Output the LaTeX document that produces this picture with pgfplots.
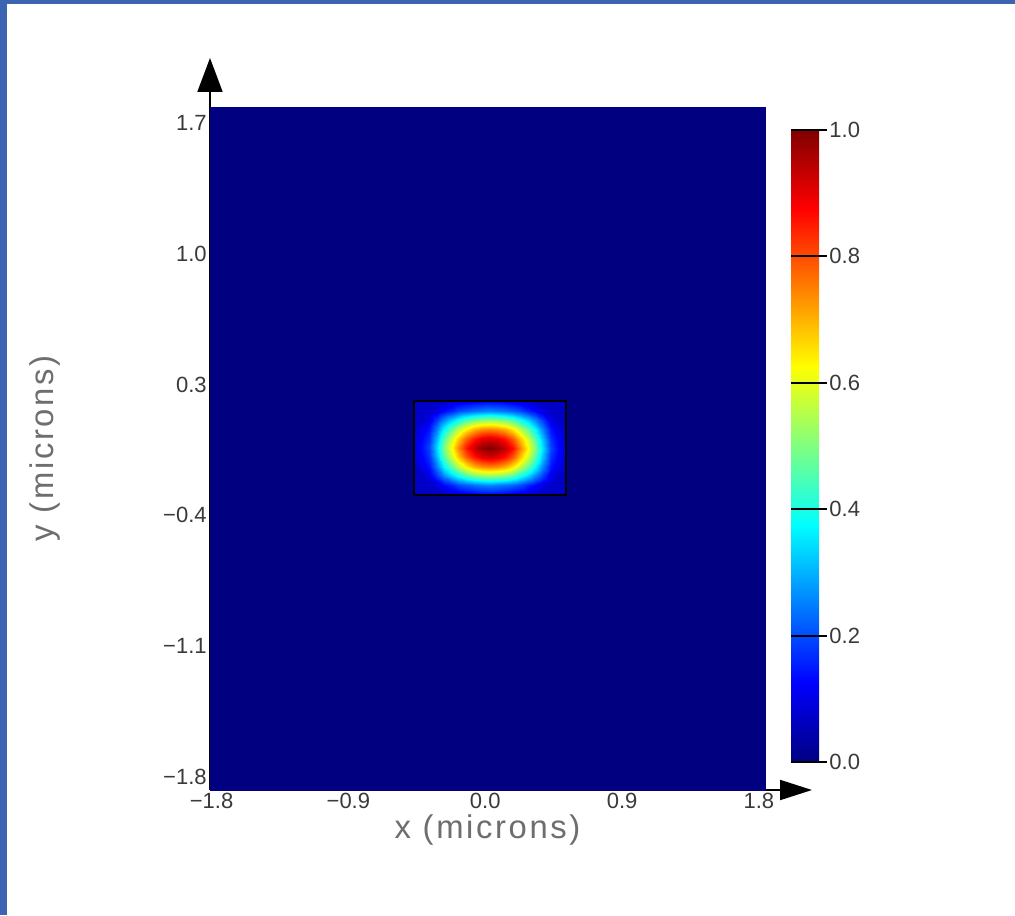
\documentclass[border=0pt]{standalone}
\usepackage{fontspec}
\setmainfont{Liberation Sans}
\newfontfamily\labelfont[LetterSpace=8]{Liberation Sans}
\usepackage{pgfplots}
\pgfplotsset{compat=1.18}
\usetikzlibrary{arrows.meta}
\definecolor{slide}{HTML}{3C64B0}
\definecolor{ticktext}{HTML}{3A3A3A}
\definecolor{labeltext}{HTML}{6E6E6E}

\begin{document}
\begin{tikzpicture}
\path[use as bounding box] (0,0) rectangle (507.5pt,457.5pt);
\fill[white] (0,0) rectangle (507.5pt,457.5pt);
\fill[slide] (0,0) rectangle (3.5pt,457.5pt);
\fill[slide] (0,455.5pt) rectangle (507.5pt,457.5pt);
\begin{axis}[
  at={(105pt,62.5pt)}, anchor=south west,
  scale only axis, width=277.5pt, height=341.5pt,
  xmin=-1.81, xmax=1.84, ymin=-1.87, ymax=1.785,
  axis x line*=bottom, axis y line*=left,
  x axis line style={line width=1pt, shorten >=-23.5pt, -{Triangle[length=16pt,width=10pt]}},
  y axis line style={line width=1pt, shorten >=-24.5pt, -{Triangle[length=17pt,width=12.5pt]}},
  tick style={draw=none},
  xtick={-1.8,-0.9,0,0.9,1.8},
  xticklabels={−1.8,−0.9,0.0,0.9,1.8},
  ytick={-1.8,-1.1,-0.4,0.3,1.0,1.7},
  yticklabels={−1.8,−1.1,−0.4,0.3,1.0,1.7},
  xticklabel style={font=\fontsize{11}{13}\selectfont, text=ticktext, inner sep=1.5pt},
  yticklabel style={font=\fontsize{11}{13}\selectfont, text=ticktext, inner sep=1.5pt},
  xlabel={x (microns)}, ylabel={y (microns)},
  xlabel style={font=\labelfont\fontsize{16.4}{18}\selectfont, text=labeltext, at={(axis description cs:0.5,-0.0586)}, anchor=center},
  ylabel style={font=\labelfont\fontsize{16.4}{18}\selectfont, text=labeltext, at={(axis description cs:-0.297,0.5)}, anchor=center},
  colormap/jet, point meta min=0, point meta max=1,
  colorbar,
  colorbar style={
    at={(parent axis.south east)}, anchor=south west, xshift=4.5pt, yshift=14pt,
    scale only axis, width=14pt, height=316pt,
    ytick={0,0.2,0.4,0.6,0.8,1.0},
    yticklabels={0.0,0.2,0.4,0.6,0.8,1.0},
    ytick pos=right,
    yticklabel style={font=\fontsize{11}{13}\selectfont, text=ticktext, inner sep=1pt, xshift=-14pt},
    major tick length=18pt, tick align=outside,
    tick style={draw=black, line width=0.9pt},
    ytick style={draw=black, line width=0.9pt, xshift=-14pt},
    axis line style={draw=none},
    axis on top,
  },
]
% field far from the guide
\addplot[surf, shader=interp, mesh/cols=2, point meta=explicit] coordinates {
(-1.81,-1.87) [0] (1.84,-1.87) [0]
(-1.81,1.785) [0] (1.84,1.785) [0]
};
% mode intensity inside the guide
\addplot[surf, shader=interp, mesh/cols=21, point meta=explicit] coordinates {
(-0.47,-0.29) [0.07] (-0.42,-0.29) [0.07] (-0.37,-0.29) [0.07] (-0.32,-0.29) [0.07] (-0.27,-0.29) [0.07] (-0.22,-0.29) [0.08] (-0.17,-0.29) [0.09] (-0.12,-0.29) [0.10] (-0.07,-0.29) [0.11] (-0.02,-0.29) [0.12] (0.03,-0.29) [0.12] (0.08,-0.29) [0.12] (0.13,-0.29) [0.11] (0.18,-0.29) [0.10] (0.23,-0.29) [0.09] (0.28,-0.29) [0.08] (0.33,-0.29) [0.07] (0.38,-0.29) [0.07] (0.43,-0.29) [0.07] (0.48,-0.29) [0.07] (0.53,-0.29) [0.07]
(-0.47,-0.24) [0.07] (-0.42,-0.24) [0.07] (-0.37,-0.24) [0.07] (-0.32,-0.24) [0.09] (-0.27,-0.24) [0.13] (-0.22,-0.24) [0.16] (-0.17,-0.24) [0.20] (-0.12,-0.24) [0.22] (-0.07,-0.24) [0.24] (-0.02,-0.24) [0.25] (0.03,-0.24) [0.26] (0.08,-0.24) [0.25] (0.13,-0.24) [0.24] (0.18,-0.24) [0.22] (0.23,-0.24) [0.20] (0.28,-0.24) [0.16] (0.33,-0.24) [0.13] (0.38,-0.24) [0.09] (0.43,-0.24) [0.07] (0.48,-0.24) [0.07] (0.53,-0.24) [0.07]
(-0.47,-0.19) [0.07] (-0.42,-0.19) [0.07] (-0.37,-0.19) [0.10] (-0.32,-0.19) [0.18] (-0.27,-0.19) [0.26] (-0.22,-0.19) [0.33] (-0.17,-0.19) [0.39] (-0.12,-0.19) [0.45] (-0.07,-0.19) [0.49] (-0.02,-0.19) [0.51] (0.03,-0.19) [0.52] (0.08,-0.19) [0.51] (0.13,-0.19) [0.49] (0.18,-0.19) [0.45] (0.23,-0.19) [0.39] (0.28,-0.19) [0.33] (0.33,-0.19) [0.26] (0.38,-0.19) [0.18] (0.43,-0.19) [0.10] (0.48,-0.19) [0.07] (0.53,-0.19) [0.07]
(-0.47,-0.14) [0.07] (-0.42,-0.14) [0.10] (-0.37,-0.14) [0.14] (-0.32,-0.14) [0.25] (-0.27,-0.14) [0.37] (-0.22,-0.14) [0.47] (-0.17,-0.14) [0.56] (-0.12,-0.14) [0.64] (-0.07,-0.14) [0.70] (-0.02,-0.14) [0.73] (0.03,-0.14) [0.74] (0.08,-0.14) [0.73] (0.13,-0.14) [0.70] (0.18,-0.14) [0.64] (0.23,-0.14) [0.56] (0.28,-0.14) [0.47] (0.33,-0.14) [0.37] (0.38,-0.14) [0.25] (0.43,-0.14) [0.14] (0.48,-0.14) [0.10] (0.53,-0.14) [0.07]
(-0.47,-0.09) [0.09] (-0.42,-0.09) [0.12] (-0.37,-0.09) [0.17] (-0.32,-0.09) [0.31] (-0.27,-0.09) [0.46] (-0.22,-0.09) [0.58] (-0.17,-0.09) [0.69] (-0.12,-0.09) [0.79] (-0.07,-0.09) [0.86] (-0.02,-0.09) [0.90] (0.03,-0.09) [0.92] (0.08,-0.09) [0.90] (0.13,-0.09) [0.86] (0.18,-0.09) [0.79] (0.23,-0.09) [0.69] (0.28,-0.09) [0.58] (0.33,-0.09) [0.46] (0.38,-0.09) [0.31] (0.43,-0.09) [0.17] (0.48,-0.09) [0.12] (0.53,-0.09) [0.09]
(-0.47,-0.04) [0.10] (-0.42,-0.04) [0.13] (-0.37,-0.04) [0.19] (-0.32,-0.04) [0.34] (-0.27,-0.04) [0.50] (-0.22,-0.04) [0.63] (-0.17,-0.04) [0.75] (-0.12,-0.04) [0.86] (-0.07,-0.04) [0.94] (-0.02,-0.04) [0.98] (0.03,-0.04) [1.00] (0.08,-0.04) [0.98] (0.13,-0.04) [0.94] (0.18,-0.04) [0.86] (0.23,-0.04) [0.75] (0.28,-0.04) [0.63] (0.33,-0.04) [0.50] (0.38,-0.04) [0.34] (0.43,-0.04) [0.19] (0.48,-0.04) [0.13] (0.53,-0.04) [0.10]
(-0.47,0.01) [0.09] (-0.42,0.01) [0.12] (-0.37,0.01) [0.17] (-0.32,0.01) [0.31] (-0.27,0.01) [0.46] (-0.22,0.01) [0.58] (-0.17,0.01) [0.69] (-0.12,0.01) [0.79] (-0.07,0.01) [0.86] (-0.02,0.01) [0.90] (0.03,0.01) [0.92] (0.08,0.01) [0.90] (0.13,0.01) [0.86] (0.18,0.01) [0.79] (0.23,0.01) [0.69] (0.28,0.01) [0.58] (0.33,0.01) [0.46] (0.38,0.01) [0.31] (0.43,0.01) [0.17] (0.48,0.01) [0.12] (0.53,0.01) [0.09]
(-0.47,0.06) [0.07] (-0.42,0.06) [0.10] (-0.37,0.06) [0.14] (-0.32,0.06) [0.25] (-0.27,0.06) [0.37] (-0.22,0.06) [0.47] (-0.17,0.06) [0.56] (-0.12,0.06) [0.64] (-0.07,0.06) [0.70] (-0.02,0.06) [0.73] (0.03,0.06) [0.74] (0.08,0.06) [0.73] (0.13,0.06) [0.70] (0.18,0.06) [0.64] (0.23,0.06) [0.56] (0.28,0.06) [0.47] (0.33,0.06) [0.37] (0.38,0.06) [0.25] (0.43,0.06) [0.14] (0.48,0.06) [0.10] (0.53,0.06) [0.07]
(-0.47,0.11) [0.07] (-0.42,0.11) [0.07] (-0.37,0.11) [0.10] (-0.32,0.11) [0.18] (-0.27,0.11) [0.26] (-0.22,0.11) [0.33] (-0.17,0.11) [0.39] (-0.12,0.11) [0.45] (-0.07,0.11) [0.49] (-0.02,0.11) [0.51] (0.03,0.11) [0.52] (0.08,0.11) [0.51] (0.13,0.11) [0.49] (0.18,0.11) [0.45] (0.23,0.11) [0.39] (0.28,0.11) [0.33] (0.33,0.11) [0.26] (0.38,0.11) [0.18] (0.43,0.11) [0.10] (0.48,0.11) [0.07] (0.53,0.11) [0.07]
(-0.47,0.16) [0.07] (-0.42,0.16) [0.07] (-0.37,0.16) [0.07] (-0.32,0.16) [0.09] (-0.27,0.16) [0.13] (-0.22,0.16) [0.16] (-0.17,0.16) [0.20] (-0.12,0.16) [0.22] (-0.07,0.16) [0.24] (-0.02,0.16) [0.25] (0.03,0.16) [0.26] (0.08,0.16) [0.25] (0.13,0.16) [0.24] (0.18,0.16) [0.22] (0.23,0.16) [0.20] (0.28,0.16) [0.16] (0.33,0.16) [0.13] (0.38,0.16) [0.09] (0.43,0.16) [0.07] (0.48,0.16) [0.07] (0.53,0.16) [0.07]
(-0.47,0.21) [0.07] (-0.42,0.21) [0.07] (-0.37,0.21) [0.07] (-0.32,0.21) [0.07] (-0.27,0.21) [0.07] (-0.22,0.21) [0.08] (-0.17,0.21) [0.09] (-0.12,0.21) [0.10] (-0.07,0.21) [0.11] (-0.02,0.21) [0.12] (0.03,0.21) [0.12] (0.08,0.21) [0.12] (0.13,0.21) [0.11] (0.18,0.21) [0.10] (0.23,0.21) [0.09] (0.28,0.21) [0.08] (0.33,0.21) [0.07] (0.38,0.21) [0.07] (0.43,0.21) [0.07] (0.48,0.21) [0.07] (0.53,0.21) [0.07]
};
% waveguide core outline
\addplot[black, line width=0.9pt] coordinates {(-0.47,-0.29) (0.53,-0.29) (0.53,0.21) (-0.47,0.21) (-0.47,-0.29)};
\end{axis}
\end{tikzpicture}
\end{document}
